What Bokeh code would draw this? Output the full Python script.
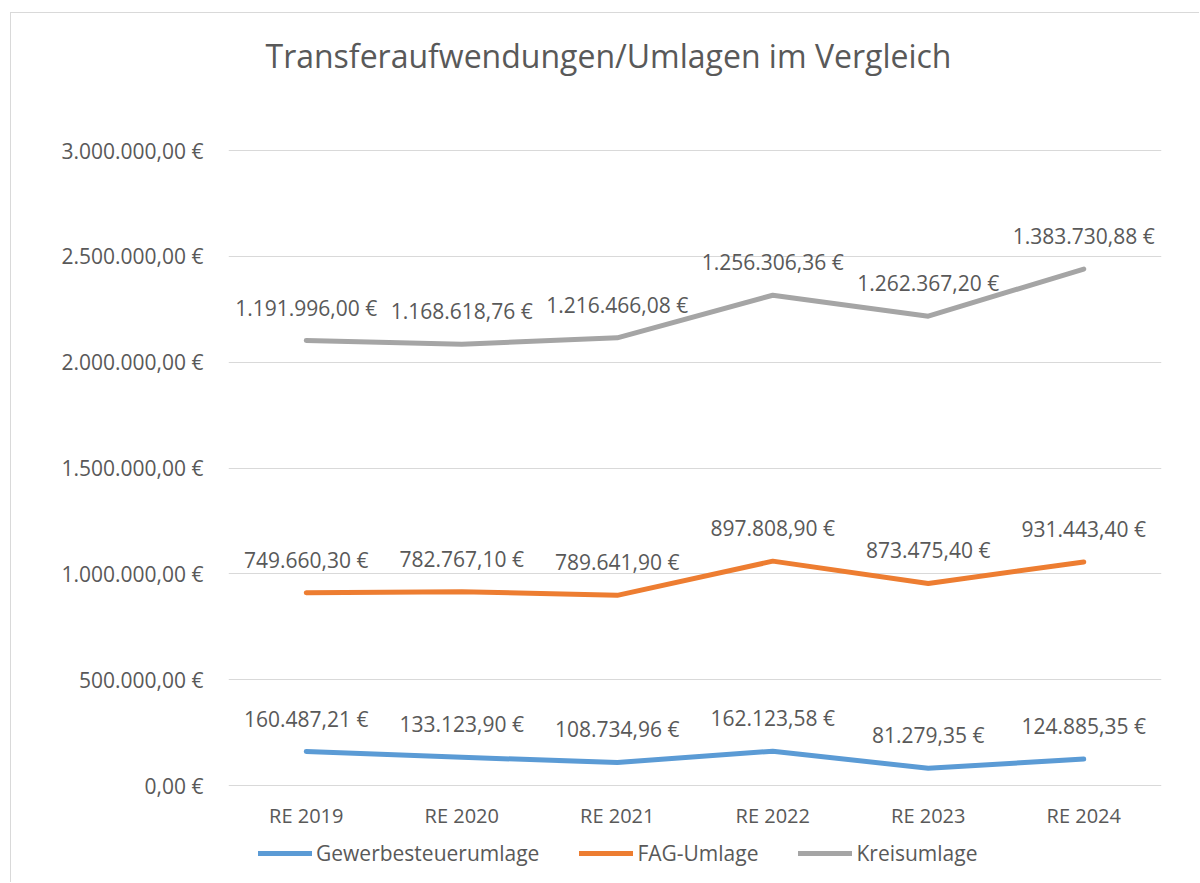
import numpy as np
from bokeh.plotting import figure
from bokeh.models import ColumnDataSource, FixedTicker, Legend, LegendItem, Range1d
from bokeh.core.properties import value
from bokeh.embed import file_html
from bokeh.resources import INLINE

# ---- data ----
categories = ["RE 2019", "RE 2020", "RE 2021", "RE 2022", "RE 2023", "RE 2024"]
gewerbesteuerumlage = [160487.21, 133123.90, 108734.96, 162123.58, 81279.35, 124885.35]
fag_umlage = [749660.30, 782767.10, 789641.90, 897808.90, 873475.40, 931443.40]
kreisumlage = [1191996.00, 1168618.76, 1216466.08, 1256306.36, 1262367.20, 1383730.88]
series_names = ["Gewerbesteuerumlage", "FAG-Umlage", "Kreisumlage"]
y_ticks = [0, 500000, 1000000, 1500000, 2000000, 2500000, 3000000]
title_text = "Transferaufwendungen/Umlagen im Vergleich"

colors = ["#5B9BD5", "#ED7D31", "#A5A5A5"]
TEXT = "#595959"
FONT = "Open Sans"


def de(v):
    s = f"{v:,.2f}"
    return s.replace(",", "X").replace(".", ",").replace("X", ".") + " €"


# layout (pixels): plot area 635 px tall for 0..3M; canvas extends above/below
W, H = 1189, 870
AREA_H = 635
ABOVE = 772   # px from canvas top to the 0-line
BELOW = H - ABOVE
y_max = max(y_ticks)
px = y_max / AREA_H
y_range = Range1d(-BELOW * px, ABOVE * px)

p = figure(width=W, height=H, output_backend="svg", toolbar_location=None,
           x_range=Range1d(-0.5, len(categories) - 0.5), y_range=y_range,
           min_border_left=217, min_border_right=39, min_border_top=0, min_border_bottom=0)
p.styles = {"margin-left": "10px", "margin-top": "12px",
            "border-left": "1px solid #D9D9D9", "border-top": "1px solid #D9D9D9"}
p.outline_line_color = None
p.background_fill_color = "white"
p.border_fill_color = "white"
p.xaxis.visible = False

# y axis
p.yaxis.ticker = FixedTicker(ticks=y_ticks)
p.yaxis.major_label_overrides = {t: de(t) for t in y_ticks}
p.yaxis.axis_line_color = None
p.yaxis.major_tick_line_color = None
p.yaxis.minor_tick_line_color = None
p.yaxis.major_tick_out = 0
p.yaxis.major_tick_in = 0
p.yaxis.major_label_text_font = FONT
p.yaxis.major_label_text_color = TEXT
p.yaxis.major_label_text_font_size = "21px"
p.yaxis.major_label_standoff = 25
p.xgrid.grid_line_color = None
p.ygrid.grid_line_color = "#D9D9D9"
p.ygrid.grid_line_width = 1
p.ygrid.ticker = FixedTicker(ticks=y_ticks)

x = np.arange(len(categories))

# category labels
cat_src = ColumnDataSource(dict(x=x, y=np.zeros(len(categories)), t=categories))
p.text("x", "y", text="t", source=cat_src, text_align="center", text_baseline="middle",
       y_offset=30, text_font=value(FONT), text_font_size="20px", text_color=TEXT)

# title
p.text(x=[-0.5], y=[y_max], text=[title_text], text_align="left", text_baseline="middle",
       x_offset=37, y_offset=-95, text_font=value(FONT), text_font_size="32px",
       text_color=TEXT)

# stacked lines with value labels
vals = [np.array(gewerbesteuerumlage), np.array(fag_umlage), np.array(kreisumlage)]
stack = np.cumsum(np.vstack(vals), axis=0)
items = []
for i, name in enumerate(series_names):
    src = ColumnDataSource(dict(x=x, y=stack[i], lab=[de(v) for v in vals[i]]))
    r = p.line("x", "y", source=src, line_color=colors[i], line_width=5,
               line_cap="round", line_join="round")
    items.append(LegendItem(label=name, renderers=[r]))
    p.text("x", "y", text="lab", source=src, text_align="center", text_baseline="middle",
           y_offset=-33, text_font=value(FONT), text_font_size="21px", text_color=TEXT)

legend = Legend(items=items, orientation="horizontal", location=(30, 16),
                padding=0, margin=0, spacing=40, glyph_width=54, glyph_height=20,
                label_standoff=4, label_height=20,
                label_text_font=FONT, label_text_font_size="21px", label_text_color=TEXT,
                border_line_color=None, background_fill_alpha=0)
p.add_layout(legend, "center")

open("out.html", "w").write(file_html(p, INLINE))
